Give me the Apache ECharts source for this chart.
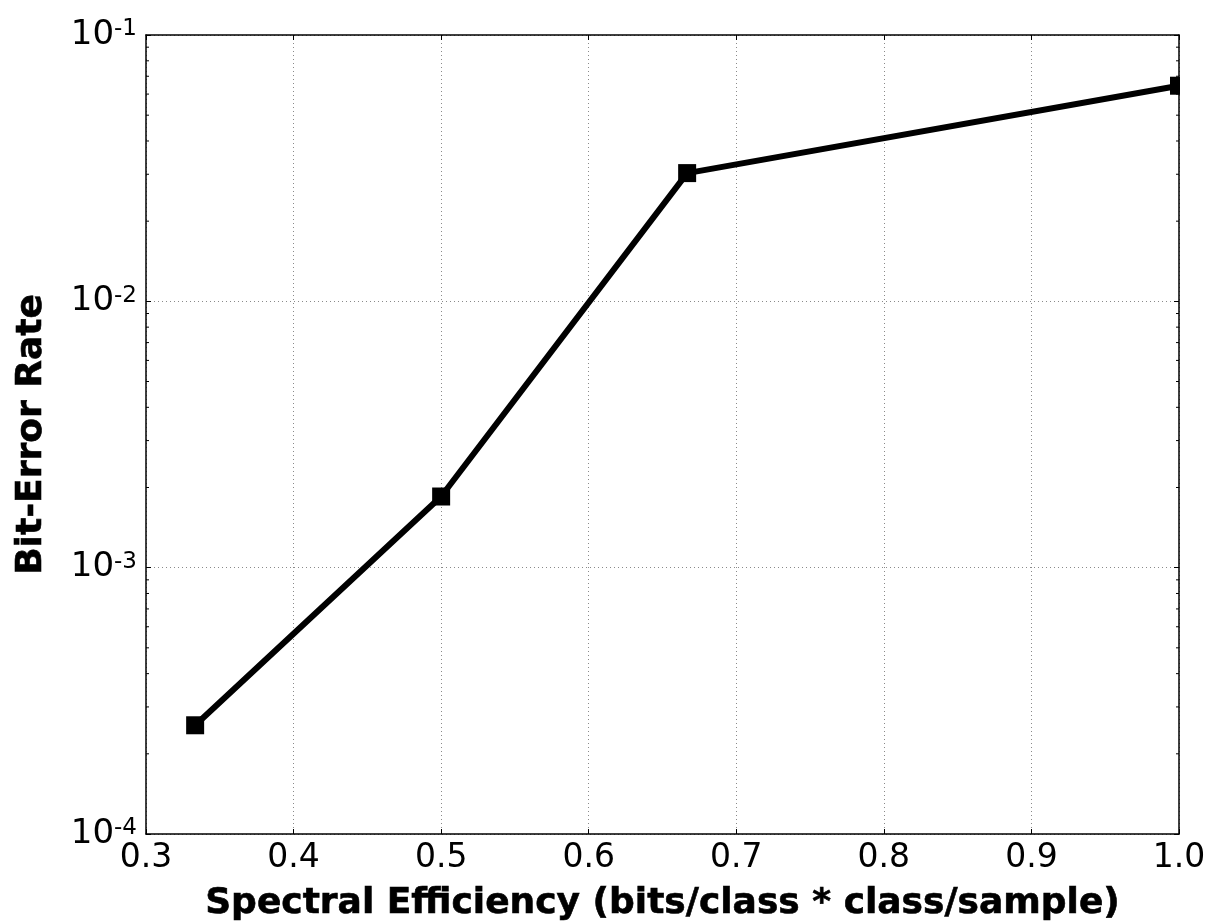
<!DOCTYPE html>
<html>
<head>
<meta charset="utf-8">
<script src="https://cdn.jsdelivr.net/npm/echarts@6/dist/echarts.min.js"></script>
<style>
  html, body { margin: 0; padding: 0; background: #fff; }
  #chart { width: 1212px; height: 923px; }
</style>
</head>
<body>
<div id="chart"></div>
<script>
// Spectral efficiency (bits/class * class/sample) at each operating point
const efficiency = [0.3333, 0.5, 0.6667, 1.0];
// Measured bit-error rate at each operating point
const bitErrorRate = [2.56e-4, 1.85e-3, 3.03e-2, 6.45e-2];
// Minor tick positions on the logarithmic BER axis
const minorTicks = [
  2e-4, 3e-4, 4e-4, 5e-4, 6e-4, 7e-4, 8e-4, 9e-4,
  2e-3, 3e-3, 4e-3, 5e-3, 6e-3, 7e-3, 8e-3, 9e-3,
  2e-2, 3e-2, 4e-2, 5e-2, 6e-2, 7e-2, 8e-2, 9e-2
];

const FONT = 'DejaVu Sans';
const chart = echarts.init(document.getElementById('chart'), null, { renderer: 'canvas' });

const GRID = { left: 146, top: 35, right: 33, bottom: 89 };

function expLabel(v) {
  const e = Math.round(Math.log10(v));
  return '{n|10}{s|' + e + '}';
}

const titleStyle = {
  fontFamily: FONT, fontWeight: 'bold', fontSize: 36, color: '#000',
  textBorderColor: '#000', textBorderWidth: 0.6
};

const option = {
  backgroundColor: '#ffffff',
  animation: false,
  grid: {
    left: GRID.left, top: GRID.top, right: GRID.right, bottom: GRID.bottom,
    containLabel: false, outerBoundsMode: 'none'
  },
  xAxis: [
    {
      type: 'value', min: 0.3, max: 1.0, interval: 0.1,
      name: 'Spectral Efficiency (bits/class * class/sample)',
      nameLocation: 'middle', nameGap: 52,
      nameTextStyle: titleStyle,
      axisLine: { show: true, onZero: false, lineStyle: { color: '#000', width: 1.5 } },
      axisTick: { show: true, inside: true, length: 5, lineStyle: { color: '#000', width: 1 } },
      axisLabel: { margin: 8, fontFamily: FONT, fontSize: 33, color: '#000',
        formatter: v => v.toFixed(1) },
      splitLine: { show: true, lineStyle: { color: '#8a8a8a', type: [1, 3], width: 1 } }
    },
    {
      type: 'value', position: 'top', min: 0.3, max: 1.0, interval: 0.1, z: 10,
      axisLine: { show: true, lineStyle: { color: '#000', width: 1.5 } },
      axisTick: { show: true, inside: true, length: 5, lineStyle: { color: '#000', width: 1 } },
      axisLabel: { show: false }, splitLine: { show: false }
    }
  ],
  yAxis: [
    {
      type: 'log', logBase: 10, min: 1e-4, max: 1e-1,
      name: 'Bit-Error Rate',
      nameLocation: 'middle', nameGap: 96,
      nameTextStyle: titleStyle,
      axisLine: { show: true, onZero: false, lineStyle: { color: '#000', width: 1.5 } },
      axisTick: { show: true, inside: true, length: 5, lineStyle: { color: '#000', width: 1 } },
      axisLabel: {
        margin: 9, color: '#000', formatter: expLabel,
        rich: {
          n: { fontFamily: FONT, fontSize: 34, color: '#000', lineHeight: 34, verticalAlign: 'bottom' },
          s: { fontFamily: FONT, fontSize: 23, color: '#000', lineHeight: 34, verticalAlign: 'top', padding: [0, 0, 14, 0] }
        }
      },
      splitLine: { show: true, lineStyle: { color: '#8a8a8a', type: [1, 3], width: 1 } }
    },
    {
      type: 'log', logBase: 10, min: 1e-4, max: 1e-1, position: 'right', z: 10,
      axisLine: { show: true, lineStyle: { color: '#000', width: 1.5 } },
      axisTick: { show: true, inside: true, length: 5, lineStyle: { color: '#000', width: 1 } },
      axisLabel: { show: false }, splitLine: { show: false }
    }
  ],
  graphic: [
    {
      // mask whatever spills past the right edge of the plotting area
      type: 'rect', z: 5, silent: true,
      shape: { x: 1180, y: 0, width: 40, height: 834 },
      style: { fill: '#ffffff' }
    }
  ],
  series: [
    {
      type: 'custom',
      xAxisIndex: 0, yAxisIndex: 0,
      silent: true, z: 1,
      data: minorTicks.map(v => [0.3, v]),
      renderItem: function (params, api) {
        const p = api.coord([0.3, api.value(1)]);
        const cs = params.coordSys;
        const L = 3;
        return {
          type: 'group',
          children: [
            { type: 'line', shape: { x1: cs.x, y1: p[1], x2: cs.x + L, y2: p[1] }, style: { stroke: '#000', lineWidth: 1 } },
            { type: 'line', shape: { x1: cs.x + cs.width, y1: p[1], x2: cs.x + cs.width - L, y2: p[1] }, style: { stroke: '#000', lineWidth: 1 } }
          ]
        };
      }
    },
    {
      type: 'line',
      xAxisIndex: 0, yAxisIndex: 0,
      data: efficiency.map((x, i) => [x, bitErrorRate[i]]),
      symbol: 'rect', symbolSize: 18,
      clip: false,
      lineStyle: { color: '#000', width: 6 },
      itemStyle: { color: '#000' },
      z: 3
    }
  ]
};

chart.setOption(option);
</script>
</body>
</html>
